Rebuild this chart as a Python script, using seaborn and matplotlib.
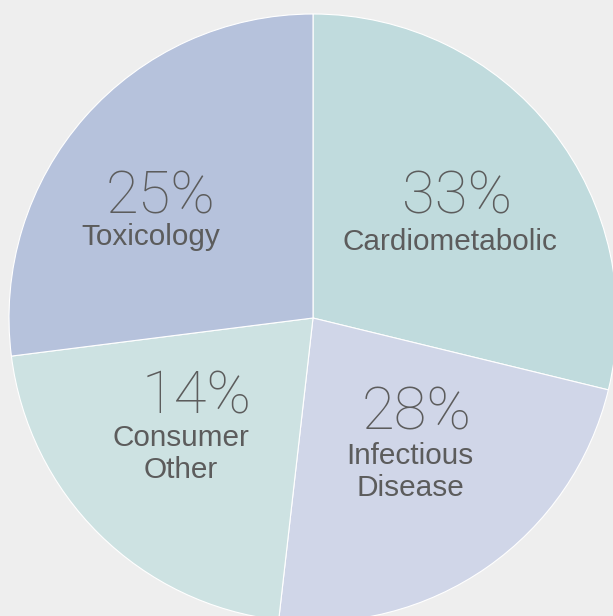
import matplotlib
matplotlib.use("Agg")
import matplotlib.pyplot as plt
import seaborn as sns

# Data
categories = ["Cardiometabolic", "Infectious\nDisease", "Consumer\nOther", "Toxicology"]
pct_labels = ["33%", "28%", "14%", "25%"]
# slice sizes as drawn in the picture
slice_sizes = [28.8, 23.0, 21.2, 27.0]
colors = ["#c0dbdd", "#d0d6e8", "#cde2e2", "#b6c2dc"]

sns.set_theme(style="white")
plt.rcParams['font.family'] = ['Liberation Sans', 'DejaVu Sans']

W, H = 613, 616
fig = plt.figure(figsize=(W / 100, H / 100), dpi=100, facecolor="#eeeeee")
ax = fig.add_axes([0, 0, 1, 1])
ax.set_facecolor("#eeeeee")

cx, cy, r = 313, H - 318, 304
ax.pie(slice_sizes, colors=sns.color_palette(colors), startangle=90, counterclock=False,
       center=(cx, cy), radius=r, frame=True,
       wedgeprops=dict(edgecolor="white", linewidth=0.8))

ax.set_xlim(0, W)
ax.set_ylim(0, H)
ax.set_aspect("equal")
ax.axis("off")

# text anchor positions (center x, baseline y in pixels from top)
pct_pos = [(457, 214), (417, 430), (197, 414), (161, 213)]
lab_pos = [(449.5, 250), (410, 464), (181, 446), (151, 245)]
line_gap = 32
txt = "#5c5c5c"
for p, c, (px, py), (lx, ly) in zip(pct_labels, categories, pct_pos, lab_pos):
    ax.text(px, H - py, p, ha="center", va="baseline", fontsize=43, color=txt,
            fontweight="light", family=["Roboto", "DejaVu Sans"])
    for i, line in enumerate(c.split("\n")):
        ax.text(lx, H - (ly + i * line_gap), line, ha="center", va="baseline",
                fontsize=21.4, color=txt)

fig.savefig("out.png", dpi=100, facecolor=fig.get_facecolor())
